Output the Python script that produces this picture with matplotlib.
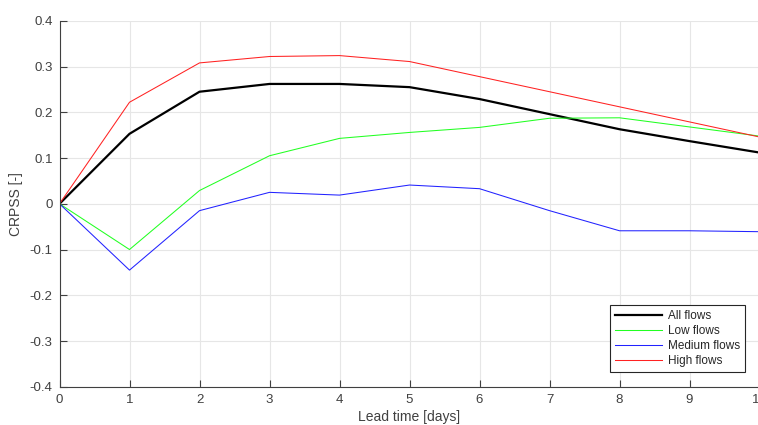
import matplotlib.pyplot as plt

# lead times (days)
lead_time = [0, 1, 2, 3, 4, 5, 6, 7, 8, 9, 10]

# CRPSS per flow class
all_flows = [0, 0.153, 0.245, 0.262, 0.262, 0.255, 0.229, 0.196, 0.163, 0.137, 0.112]
low_flows = [0, -0.100, 0.029, 0.105, 0.143, 0.156, 0.167, 0.187, 0.188, 0.168, 0.148]
medium_flows = [0, -0.145, -0.015, 0.025, 0.019, 0.041, 0.033, -0.015, -0.059, -0.059, -0.061]
high_flows = [0, 0.222, 0.308, 0.322, 0.324, 0.311, 0.278, 0.245, 0.212, 0.179, 0.146]

plt.rcParams['font.family'] = ['Liberation Sans', 'DejaVu Sans']

fig = plt.figure(figsize=(7.58, 4.25), dpi=100)
ax = fig.add_axes([0.0785, 0.090, 0.9235, 0.861])

ax.plot(lead_time, all_flows, color='black', lw=1.6, label='All flows')
ax.plot(lead_time, low_flows, color='#22ff22', lw=0.75, label='Low flows')
ax.plot(lead_time, medium_flows, color='#2222ff', lw=0.75, label='Medium flows')
ax.plot(lead_time, high_flows, color='#ff2222', lw=0.75, label='High flows')

ax.set_xlim(0, 10)
ax.set_ylim(-0.4, 0.4)
ax.set_xticks(range(0, 11))
ax.set_yticks([-0.4, -0.3, -0.2, -0.1, 0, 0.1, 0.2, 0.3, 0.4])
ax.set_yticklabels(['-0.4', '-0.3', '-0.2', '-0.1', '0', '0.1', '0.2', '0.3', '0.4'])
ax.grid(True, color='#e6e6e6', lw=0.8)
ax.set_axisbelow(True)

for side in ['top', 'right']:
    ax.spines[side].set_visible(False)
for side in ['left', 'bottom']:
    ax.spines[side].set_color('#404040')
    ax.spines[side].set_linewidth(0.8)
ax.tick_params(direction='in', length=5, width=0.8, colors='#404040',
               labelsize=9.5, pad=5)

ax.set_xlabel('Lead time [days]', fontsize=10, color='#404040', labelpad=3)
ax.set_ylabel('CRPSS [-]', fontsize=10, color='#404040', labelpad=5)

leg = ax.legend(loc='lower right', bbox_to_anchor=(0.979, 0.041), fontsize=8.5,
                frameon=True, fancybox=False, framealpha=1, edgecolor='#262626',
                handlelength=4.0, handletextpad=0.5, labelspacing=0.25,
                borderpad=0.4, borderaxespad=0)
leg.get_frame().set_linewidth(0.8)
for t in leg.get_texts():
    t.set_color('#262626')

fig.savefig('out.png', dpi=100)
